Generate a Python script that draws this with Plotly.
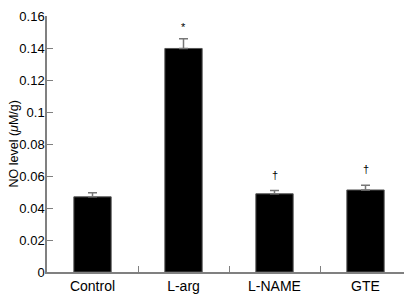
import plotly.graph_objects as go

categories = ["Control", "L-arg", "L-NAME", "GTE"]
values = [0.047, 0.1398, 0.0489, 0.0513]
errors = [0.0025, 0.006, 0.002, 0.003]
sig_marks = ["", "*", "†", "†"]
y_ticks = [0, 0.02, 0.04, 0.06, 0.08, 0.1, 0.12, 0.14, 0.16]

FONT = "Liberation Sans, Arial, Helvetica"

fig = go.Figure()
fig.add_trace(go.Bar(
    x=categories, y=values,
    width=0.41,
    marker=dict(color="black", line=dict(color="#555555", width=1)),
    error_y=dict(type="data", array=errors, arrayminus=[0]*len(errors),
                 symmetric=False, color="#777777", thickness=1.5, width=4.5),
))

for c, v, e, s in zip(categories, values, errors, sig_marks):
    if s:
        fig.add_annotation(x=c, y=v + e, text=s, showarrow=False,
                           yanchor="bottom", yshift=4 if s == "*" else 8,
                           font=dict(family=FONT, size=11, color="black"))

fig.add_annotation(xref="paper", yref="paper", x=-33.5/364, y=0.5,
                   xanchor="center", yanchor="middle", textangle=-90,
                   text="NO level (<i>μ</i>M/g)", showarrow=False,
                   font=dict(family=FONT, size=12.5, color="black"))

fig.update_layout(
    width=404, height=288,
    margin=dict(l=39, r=1, t=6, b=24),
    paper_bgcolor="white", plot_bgcolor="white",
    showlegend=False,
    bargap=0.59,
    font=dict(family=FONT, color="black"),
)
fig.update_xaxes(
    showline=True, linecolor="#808080", linewidth=1.5,
    ticks="inside", tickson="boundaries", ticklen=6, tickcolor="#808080", tickwidth=1.2,
    tickfont=dict(size=14), showgrid=False, zeroline=False,
)
fig.update_yaxes(
    range=[0, 0.1601], tickvals=y_ticks, ticktext=[f"{t:g}" for t in y_ticks],
    showline=True, linecolor="#808080", linewidth=1.5,
    ticks="inside", ticklen=6, tickcolor="#808080", tickwidth=1.2,
    tickfont=dict(size=13), ticklabelstandoff=-2, ticklabeloverflow="allow",
    showgrid=False, zeroline=False,
)

fig.write_html("out.html")
